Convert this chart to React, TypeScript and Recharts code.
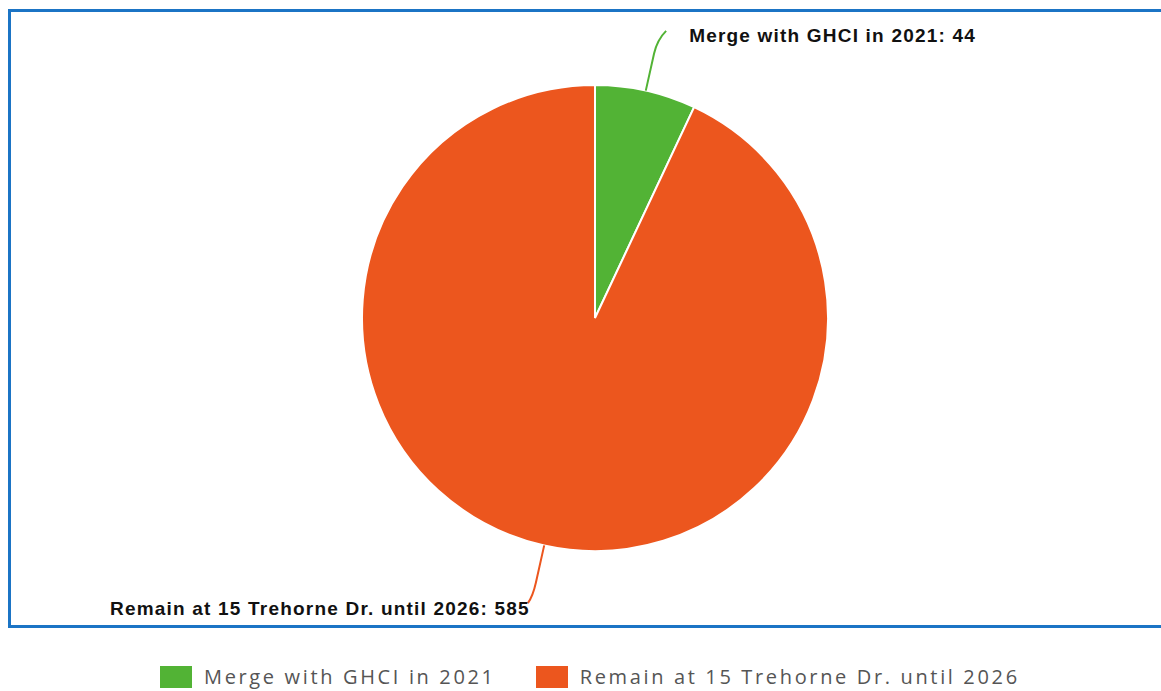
import React from 'react';
import { PieChart, Pie, Cell, Legend } from 'recharts';

const categories = ['Merge with GHCI in 2021', 'Remain at 15 Trehorne Dr. until 2026'];
const values = [44, 585];
const colors = ['#52b335', '#ec561e'];

const data = categories.map((name, i) => ({ name, value: values[i] }));

const RAD = Math.PI / 180;
const pt = (cx: number, cy: number, r: number, a: number) => ({
  x: cx + Math.cos(-a * RAD) * r,
  y: cy + Math.sin(-a * RAD) * r,
});

const renderLabel = (props: any) => {
  const { cx, cy, midAngle, outerRadius, name, value, index } = props;
  const p0 = pt(cx, cy, outerRadius, midAngle);
  const p1 = pt(cx, cy, outerRadius + 38, midAngle);
  const pc = pt(cx, cy, outerRadius + 52, midAngle);
  const right = Math.cos(-midAngle * RAD) >= 0;
  const top = Math.sin(-midAngle * RAD) < 0;
  const end = { x: pc.x + (right ? 9 : -5), y: pc.y + (top ? -9 : 7) };
  const color = colors[index % colors.length];
  const tx = right ? end.x + 23 : end.x + 2;
  const ty = top ? end.y + 11 : end.y + 12;
  return (
    <g>
      <path
        d={`M${p0.x},${p0.y} L${p1.x},${p1.y} Q${pc.x},${pc.y} ${end.x},${end.y}`}
        stroke={color}
        strokeWidth={2}
        fill="none"
      />
      <text
        x={tx}
        y={ty}
        textAnchor={right ? 'start' : 'end'}
        fill="#111"
        style={{ fontFamily: 'Liberation Sans, Arial, sans-serif', fontWeight: 700, fontSize: 19, letterSpacing: 1.2 }}
      >
        {`${name}: ${value}`}
      </text>
    </g>
  );
};

const renderLegend = (props: any) => {
  const payload = props.payload || [];
  return (
    <div style={{ display: 'flex', alignItems: 'center', paddingLeft: 160 }}>
      {payload.map((entry: any, i: number) => (
        <div key={i} style={{ display: 'flex', alignItems: 'center', marginRight: 40 }}>
          <div style={{ width: 32, height: 22, background: entry.color, marginRight: 12 }} />
          <span
            style={{
              fontFamily: '"Open Sans", sans-serif',
              fontSize: 20,
              color: '#555',
              letterSpacing: 2.65,
              lineHeight: '24px',
            }}
          >
            {entry.value}
          </span>
        </div>
      ))}
    </div>
  );
};

export default function App() {
  return (
    <div style={{ position: 'relative', width: 1161, height: 691, overflow: 'hidden', background: '#fff' }}>
      <style>{`body{margin:0;overflow:hidden}`}</style>
      <div
        style={{
          position: 'absolute',
          left: 8,
          top: 9,
          width: 1170,
          height: 613,
          border: '3px solid #1b74c5',
          boxSizing: 'content-box',
        }}
      />
      <div style={{ position: 'absolute', left: 0, top: 0 }}>
        <PieChart width={1161} height={691} margin={{ top: 0, right: 0, bottom: 0, left: 0 }}>
          <Pie
            data={data}
            dataKey="value"
            nameKey="name"
            cx={595}
            cy={318}
            outerRadius={233}
            startAngle={90}
            endAngle={-270}
            stroke="#ffffff"
            strokeWidth={2}
            label={renderLabel}
            labelLine={false}
            isAnimationActive={false}
          >
            {data.map((d, i) => (
              <Cell key={d.name} fill={colors[i]} />
            ))}
          </Pie>
          <Legend
            content={renderLegend}
            wrapperStyle={{ position: 'absolute', top: 665, left: 0, width: 1161 }}
          />
        </PieChart>
      </div>
    </div>
  );
}
